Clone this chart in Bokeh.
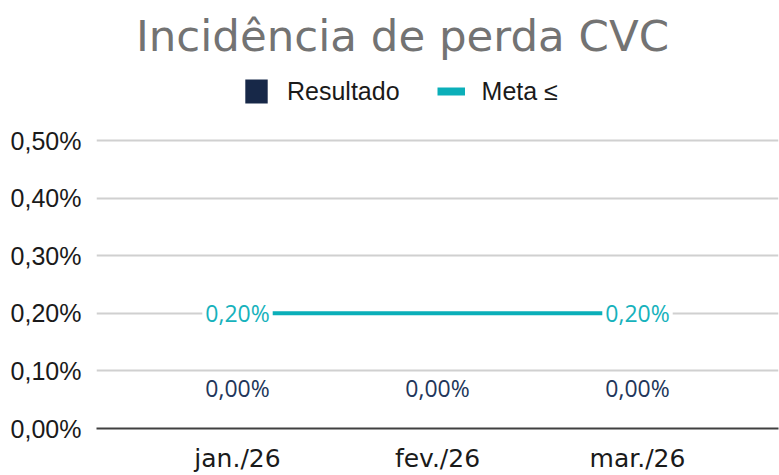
from bokeh.plotting import figure
from bokeh.models import (ColumnDataSource, Range1d, FixedTicker, LabelSet, Label, Legend, LegendItem)
from bokeh.core.properties import value
from bokeh.embed import file_html
from bokeh.resources import INLINE

title = "Incidência de perda CVC"
categories = ["jan./26", "fev./26", "mar./26"]
resultado = [0.00, 0.00, 0.00]
meta = [0.20, 0.20, 0.20]
y_ticks = [0.0, 0.1, 0.2, 0.3, 0.4, 0.5]

def fmt(v):
    return f"{v:.2f}%".replace(".", ",")

xs = [i + 0.5 for i in range(len(categories))]

NAVY = "#172848"
TEAL = "#0BAFB9"

# frame: x 96..778 px, y 0..428 px ; 200 px per category, 576 px per 1 %
p = figure(width=779, height=475, output_backend="svg", toolbar_location=None,
           x_range=Range1d(-0.205, 3.205), y_range=Range1d(0, 0.74306),
           min_border_left=96, min_border_right=1, min_border_top=0, min_border_bottom=47)
p.outline_line_color = None
p.background_fill_color = "white"

src_bar = ColumnDataSource(dict(x=xs, top=resultado,
                                lab=[fmt(v) for v in resultado]))
bars = p.vbar(x="x", top="top", width=0.6, source=src_bar, fill_color=NAVY, line_color=None)

src_meta = ColumnDataSource(dict(x=xs, y=meta))
mline = p.line(x="x", y="y", source=src_meta, line_color=TEAL, line_width=4)
# legend-only proxy (draws nothing in the plot, thicker legend swatch)
leg_line = p.line(x=xs, y=[float("nan")] * len(xs), line_color=TEAL, line_width=8)

ends = [0, len(xs) - 1]
src_ml = ColumnDataSource(dict(x=[xs[i] for i in ends], y=[meta[i] for i in ends],
                               lab=[fmt(meta[i]) for i in ends]))
p.text(x="x", y="y", text="lab", source=src_ml, text_align="center",
       text_baseline="middle", text_color="#17B2BC", text_font=value("Open Sans"),
       text_font_size="23px", background_fill_color="white", padding=3)
p.add_layout(LabelSet(x="x", y="top", text="lab", source=src_bar, text_align="center",
                      text_baseline="middle", y_offset=41, text_color="#22365A",
                      text_font=value("Open Sans"), text_font_size="23px"))

# axes
p.yaxis.ticker = FixedTicker(ticks=y_ticks)
p.yaxis.major_label_overrides = {t: fmt(t) for t in y_ticks}
p.yaxis.axis_line_color = None
p.yaxis.major_tick_line_color = None
p.yaxis.minor_tick_line_color = None
p.yaxis.major_label_text_font = "Liberation Sans"
p.yaxis.major_label_text_font_size = "25px"
p.yaxis.major_label_text_color = "#1a1a1a"
p.yaxis.major_label_standoff = 9

p.xaxis.ticker = FixedTicker(ticks=xs)
p.xaxis.major_label_overrides = {x: c for x, c in zip(xs, categories)}
p.xaxis.axis_line_color = "#404040"
p.xaxis.axis_line_width = 2
p.xaxis.major_tick_line_color = None
p.xaxis.minor_tick_line_color = None
p.xaxis.major_label_text_font = "DejaVu Sans"
p.xaxis.major_label_text_font_size = "25px"
p.xaxis.major_label_text_color = "#1a1a1a"
p.xaxis.major_label_standoff = 9

p.xgrid.grid_line_color = None
p.ygrid.grid_line_color = "#D0D0D0"
p.ygrid.grid_line_width = 2

legend = Legend(items=[LegendItem(label="Resultado", renderers=[bars]),
                       LegendItem(label="Meta ≤", renderers=[leg_line])],
                orientation="horizontal", location=(146, 322),
                glyph_width=28, glyph_height=30, label_standoff=17, spacing=37,
                label_text_font="Liberation Sans", label_text_font_size="25px",
                label_text_color="#1a1a1a", border_line_color=None,
                background_fill_alpha=0, padding=0, margin=0)
p.add_layout(legend, "center")

p.add_layout(Label(x=1.325, y=0.682, text=title, text_align="center",
                   text_baseline="alphabetic", text_font="DejaVu Sans",
                   text_font_size="43.5px", text_color="#737373"))

open("out.html", "w").write(file_html(p, INLINE))
